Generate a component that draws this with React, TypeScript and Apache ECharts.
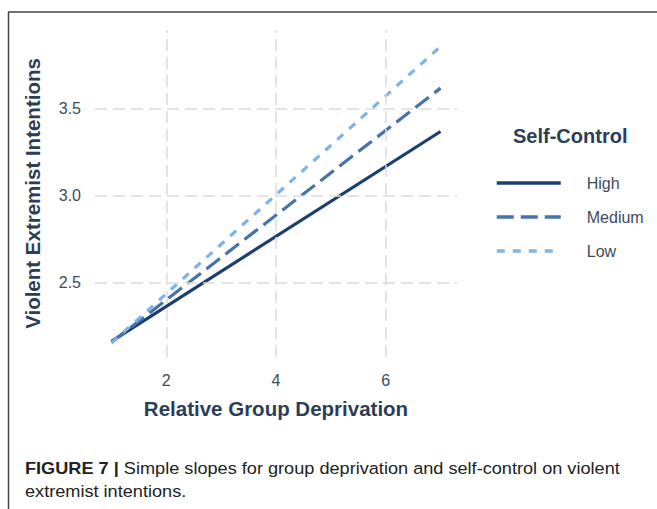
import React, { useEffect, useRef } from "react";
import * as echarts from "echarts";

const xValues = [1, 7];
const highValues = [2.16, 3.37];
const mediumValues = [2.155, 3.62];
const lowValues = [2.15, 3.86];
const seriesNames = ["High", "Medium", "Low"];
const xTicks = [2, 4, 6];
const yTicks = [2.5, 3.0, 3.5];
const legendTitle = "Self-Control";
const xTitle = "Relative Group Deprivation";
const yTitle = "Violent Extremist Intentions";
const captionBold = "FIGURE 7 |";
const captionLine1 = " Simple slopes for group deprivation and self-control on violent";
const captionLine2 = "extremist intentions.";

const colors = ["#1c3f6e", "#4673aa", "#7eb3e6"];
const dashes: any[] = ["solid", [17, 7], [8, 8]];

export default function App() {
  const ref = useRef<HTMLDivElement>(null);
  useEffect(() => {
    document.body.style.margin = "0";
    if (!ref.current) return;
    const chart = echarts.init(ref.current, undefined, { renderer: "svg" });
    const valueSets = [highValues, mediumValues, lowValues];
    const font = "'Liberation Sans', Arial, sans-serif";
    const lineSeries = seriesNames.map((name, i) => ({
      name,
      type: "line",
      data: xValues.map((x, j) => [x, valueSets[i][j]]),
      showSymbol: false,
      symbol: "none",
      z: 3,
      lineStyle: { color: colors[i], width: 3.2, type: dashes[i] },
      itemStyle: { color: colors[i] },
    }));
    const gridSeries = {
      name: "grid",
      type: "line",
      data: [],
      z: 1,
      silent: true,
      markLine: {
        silent: true,
        symbol: "none",
        label: { show: false },
        lineStyle: { color: "#dcdcdc", width: 1.5, type: [12, 6] },
        data: [
          ...xTicks.map((v) => ({ xAxis: v })),
          ...yTicks.map((v) => ({ yAxis: v })),
        ],
      },
    };
    const captionFont = "'Liberation Sans', Arial, sans-serif";
    chart.setOption({
      animation: false,
      backgroundColor: "#ffffff",
      textStyle: { fontFamily: font },
      grid: { left: 95, right: 200, top: 30, bottom: 152, containLabel: false },
      xAxis: {
        type: "value",
        min: 0.7,
        max: 7.3,
        name: xTitle,
        nameLocation: "middle",
        nameGap: 41,
        nameTextStyle: { fontSize: 20.5, fontWeight: "bold", color: "#2c3e55", fontFamily: font },
        axisLine: { show: false },
        axisTick: { show: false },
        splitLine: { show: false },
        axisLabel: {
          customValues: xTicks,
          fontSize: 16,
          color: "#3d4b5c",
          margin: 15,
          fontFamily: font,
        },
      },
      yAxis: {
        type: "value",
        min: 2.07,
        max: 3.955,
        name: yTitle,
        nameLocation: "middle",
        nameGap: 52,
        nameTextStyle: { fontSize: 20.5, fontWeight: "bold", color: "#2c3e55", fontFamily: font },
        axisLine: { show: false },
        axisTick: { show: false },
        splitLine: { show: false },
        axisLabel: {
          customValues: yTicks,
          fontSize: 16,
          color: "#3d4b5c",
          margin: 14,
          fontFamily: font,
          formatter: (v: number) => v.toFixed(1),
        },
      },
      legend: {
        data: seriesNames,
        orient: "vertical",
        left: 490,
        top: 170,
        itemWidth: 64,
        itemHeight: 16,
        itemGap: 18,
        itemStyle: { opacity: 0 },
        lineStyle: { width: 3.5 },
        textStyle: { fontSize: 16, color: "#3d4b5c", fontFamily: font, padding: [0, 0, 0, 21] },
        selectedMode: false,
      },
      graphic: [
        {
          type: "text",
          left: 513,
          top: 126,
          style: { text: legendTitle, fontSize: 20, fontWeight: "bold", fill: "#2c3e55", fontFamily: font },
        },
        {
          type: "line",
          shape: { x1: 8, y1: 12, x2: 657, y2: 12 },
          style: { stroke: "#444444", lineWidth: 1.5 },
        },
        {
          type: "line",
          shape: { x1: 8.5, y1: 12, x2: 8.5, y2: 509 },
          style: { stroke: "#444444", lineWidth: 1.5 },
        },
        {
          type: "text",
          x: 25,
          y: 460,
          scaleX: 1.1,
          style: {
            text: "{b|" + captionBold + "}{r|" + captionLine1 + "}",
            rich: {
              b: { fontSize: 16.5, fontWeight: "bold", fill: "#222222", fontFamily: captionFont },
              r: { fontSize: 16.5, fill: "#222222", fontFamily: captionFont },
            },
          },
        },
        {
          type: "text",
          x: 25,
          y: 483,
          scaleX: 1.1,
          style: {
            text: captionLine2,
            fontSize: 16.5,
            fill: "#222222",
            fontFamily: captionFont,
          },
        },
      ],
      series: [gridSeries, ...lineSeries],
    });
    return () => chart.dispose();
  }, []);
  return <div ref={ref} style={{ width: 657, height: 509 }} />;
}
